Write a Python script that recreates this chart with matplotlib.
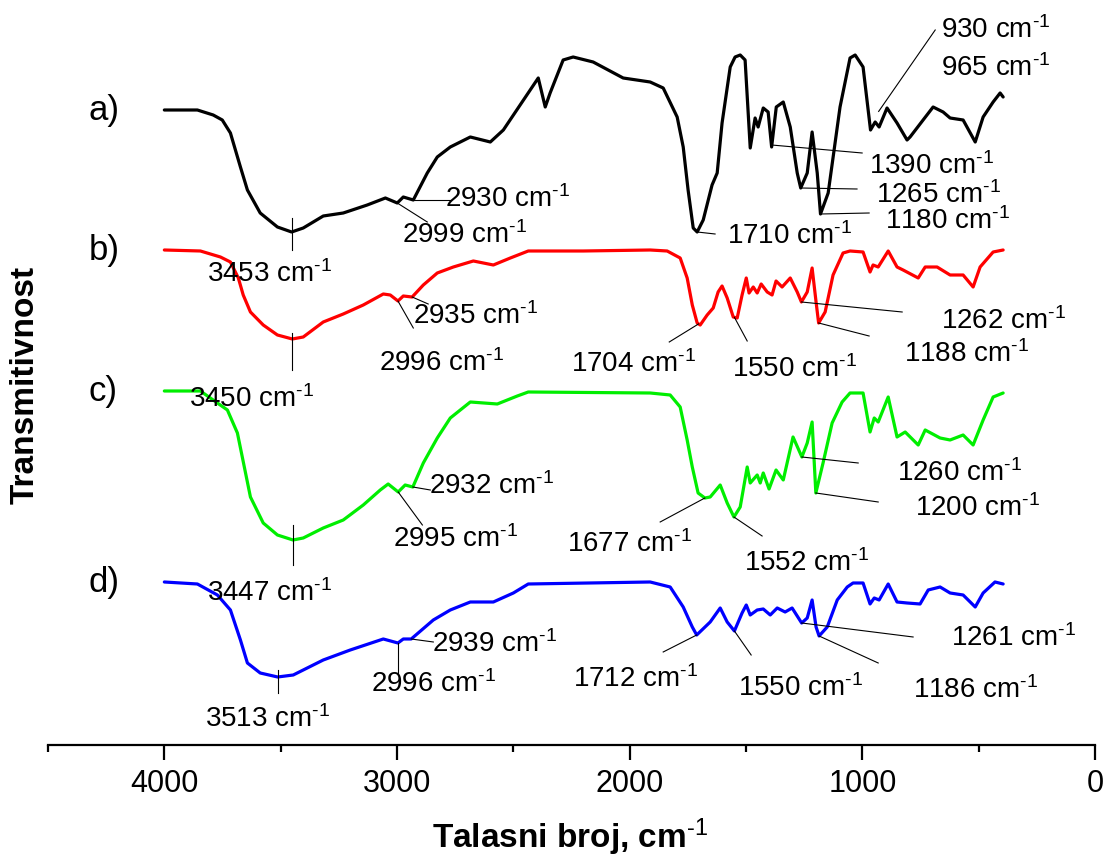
import numpy as np
import matplotlib
matplotlib.use("Agg")
import matplotlib.pyplot as plt

plt.rcParams['font.family'] = ['Liberation Sans', 'DejaVu Sans']
plt.rcParams['mathtext.fontset'] = 'custom'
plt.rcParams['mathtext.rm'] = 'Liberation Sans'
plt.rcParams['mathtext.default'] = 'regular'

# FTIR spectra, wavenumber (cm-1) and transmittance (arbitrary units, stacked)
wn_a = [4000, 3858, 3790, 3751, 3716, 3673, 3643, 3588, 3514, 3453, 3403, 3317, 3231, 3128, 3050,
        2999, 2973, 2930, 2870, 2827, 2771, 2685, 2599, 2543, 2393, 2363, 2342, 2320, 2286,
        2243, 2157, 2028, 1912, 1856, 1796, 1770, 1749, 1727, 1710, 1684, 1646, 1624, 1603,
        1568, 1547, 1525, 1504, 1482, 1461, 1448, 1426, 1405, 1390, 1370, 1340, 1310, 1280,
        1265, 1237, 1216, 1194, 1180, 1147, 1096, 1053, 1031, 997, 965, 945, 928, 894, 851,
        808, 795, 739, 696, 653, 623, 567, 515, 481, 438, 408, 395]
t_a = [635, 635, 630, 625, 612, 578, 555, 532, 518, 513, 517, 529, 532, 540, 547,
       542, 548, 545, 572, 588, 598, 608, 603, 615, 667, 638, 652, 665, 685,
       688, 683, 667, 663, 657, 628, 598, 555, 517, 513, 525, 560, 572, 622,
       678, 688, 690, 685, 597, 627, 618, 637, 633, 598, 638, 643, 618, 572,
       557, 572, 613, 572, 531, 552, 638, 687, 690, 678, 615, 623, 618, 637, 622,
       605, 608, 625, 638, 633, 627, 625, 603, 628, 643, 652, 648]

wn_b = [4000, 3845, 3759, 3716, 3682, 3661, 3630, 3575, 3514, 3450, 3403, 3317, 3231, 3145,
        3059, 3029, 2996, 2973, 2935, 2887, 2827, 2758, 2672, 2586, 2513, 2436, 2200, 1912,
        1839, 1783, 1753, 1731, 1710, 1697, 1667, 1641, 1620, 1603, 1581, 1555, 1538, 1517,
        1499, 1487, 1469, 1452, 1435, 1409, 1388, 1371, 1345, 1310, 1280, 1262, 1237, 1216,
        1199, 1188, 1160, 1126, 1083, 1053, 997, 967, 954, 932, 889, 851, 825, 760, 730,
        679, 623, 567, 524, 494, 438, 395]
t_b = [495, 494, 488, 483, 467, 450, 433, 420, 410, 406, 408, 423, 431, 440,
       451, 450, 444, 449, 448, 460, 472, 478, 484, 480, 487, 494, 494, 495,
       494, 487, 467, 440, 422, 420, 430, 437, 453, 459, 447, 428, 427, 450,
       467, 452, 458, 452, 461, 453, 450, 464, 458, 467, 453, 443, 453, 477,
       443, 422, 433, 470, 492, 494, 493, 473, 480, 478, 494, 478, 475, 467, 478,
       478, 470, 470, 458, 478, 493, 495]

wn_c = [4000, 3845, 3772, 3729, 3686, 3665, 3630, 3575, 3514, 3447, 3403, 3317, 3231, 3145,
        3072, 3038, 2995, 2965, 2932, 2887, 2827, 2771, 2685, 2569, 2483, 2436, 1912, 1826,
        1783, 1753, 1731, 1706, 1677, 1654, 1611, 1581, 1552, 1525, 1495, 1482, 1452, 1439,
        1426, 1401, 1371, 1340, 1298, 1260, 1237, 1216, 1200, 1169, 1130, 1087, 1053, 997,
        967, 949, 932, 889, 851, 816, 760, 730, 666, 623, 567, 524, 481, 438, 395]
t_c = [354, 354, 342, 335, 312, 288, 248, 222, 210, 205, 207, 217, 225, 240,
       255, 261, 253, 260, 258, 282, 307, 327, 343, 341, 349, 353, 352, 350,
       338, 305, 278, 252, 247, 248, 260, 242, 228, 238, 278, 262, 270, 262,
       272, 256, 275, 265, 308, 288, 302, 323, 252, 282, 322, 343, 352, 352,
       313, 327, 323, 348, 308, 313, 300, 315, 307, 305, 310, 300, 325, 348, 352]

wn_d = [4000, 3858, 3772, 3716, 3673, 3643, 3588, 3513, 3446, 3317, 3201, 3059, 2996, 2973,
        2939, 2844, 2771, 2685, 2586, 2500, 2436, 1912, 1826, 1770, 1731, 1712, 1654, 1611,
        1581, 1550, 1517, 1499, 1482, 1452, 1426, 1396, 1366, 1332, 1302, 1261, 1237, 1216,
        1199, 1186, 1151, 1108, 1065, 1040, 997, 967, 949, 928, 889, 851, 808, 752, 717,
        666, 623, 567, 515, 481, 430, 395]
t_d = [163, 161, 150, 135, 105, 82, 72, 68, 70, 85, 95, 106, 102, 106,
       106, 125, 135, 143, 143, 152, 161, 163, 158, 138, 118, 110, 123, 137,
       123, 114, 132, 140, 130, 135, 136, 130, 137, 133, 137, 122, 127, 145,
       118, 109, 118, 145, 158, 162, 162, 141, 147, 145, 161, 143, 142, 141, 155,
       158, 152, 150, 138, 152, 163, 161]

spectra = [(wn_a, t_a, 'black', 'a)'),
           (wn_b, t_b, '#ff0000', 'b)'),
           (wn_c, t_c, '#00ee00', 'c)'),
           (wn_d, t_d, '#0000ff', 'd)')]

# peak labels: (spectrum, peak wn, line start offset, line end (wn, T), text (wn, T))
peaks = [
    (0, 3453, 14, (3453, 495), (3815, 463)),
    (0, 2999, 0, (2870, 523), (2977, 502)),
    (0, 2930, 0, (2771, 545), (2793, 538)),
    (0, 1710, 0, (1633, 511), (1581, 501)),
    (0, 1390, 2, (1001, 592), (971, 571)),
    (0, 1265, 0, (1023, 556), (941, 542)),
    (0, 1180, 0, (971, 532), (902, 516)),
    (0, 930, 15, (687, 715), (662, 707)),
    (1, 3450, 6, (3450, 375), (3893, 338)),
    (1, 2996, 0, (2930, 417), (3076, 374)),
    (1, 2935, 0, (2866, 441), (2930, 421)),
    (1, 1704, 0, (1830, 403), (2251, 373)),
    (1, 1550, 0, (1495, 404), (1560, 368)),
    (1, 1262, 0, (829, 433), (662, 416)),
    (1, 1188, 0, (971, 409), (821, 383)),
    (2, 3447, 15, (3447, 180), (3815, 144)),
    (2, 2995, 0, (2891, 220), (3016, 198)),
    (2, 2932, 0, (2857, 255), (2861, 251)),
    (2, 1677, 0, (1869, 223), (2268, 193)),
    (2, 1552, 0, (1431, 209), (1508, 174)),
    (2, 1260, 0, (1018, 282), (851, 264)),
    (2, 1200, 0, (932, 243), (773, 229)),
    (3, 3513, 7, (3513, 52), (3824, 18)),
    (3, 2996, 0, (2996, 72), (3111, 53)),
    (3, 2939, 0, (2844, 103), (2849, 93)),
    (3, 1712, 0, (1856, 93), (2243, 58)),
    (3, 1550, 0, (1478, 90), (1534, 49)),
    (3, 1261, 0, (782, 108), (619, 99)),
    (3, 1186, 0, (932, 82), (782, 47)),
]
extra_labels = [(965, (662, 669))]

UNIT = r' cm$^{\text{-1}}$'

fig = plt.figure(figsize=(11.06, 8.57), dpi=100)
ax = fig.add_axes([0.0434, 0.1307, 0.9467, 0.8693])

for wn, t, color, name in spectra:
    ax.plot(wn, t, color=color, lw=2.3, solid_joinstyle='round', solid_capstyle='round')
    ax.text(4327, t[0] - 1, name, fontsize=25, ha='left', va='center')

for idx, pk, dy, (lx, ly), (tx, ty) in peaks:
    wn, t = spectra[idx][0], spectra[idx][1]
    y0 = np.interp(pk, wn[::-1], t[::-1]) + dy
    ax.plot([pk, lx], [y0, ly], color='black', lw=0.8)
    ax.text(tx, ty, f'{pk}' + UNIT, fontsize=20, ha='left', va='baseline')

for pk, (tx, ty) in extra_labels:
    ax.text(tx, ty, f'{pk}' + UNIT, fontsize=20, ha='left', va='baseline')

ax.set_xlim(4500, 0)
ax.set_ylim(0, 745)
ax.set_xticks([4000, 3000, 2000, 1000, 0])
ax.set_xticks(np.arange(500, 5000, 1000), minor=True)
ax.set_yticks([])
for side in ['left', 'right', 'top']:
    ax.spines[side].set_visible(False)
ax.spines['bottom'].set_linewidth(1.6)
ax.tick_params(axis='x', which='major', direction='out', length=11, width=1.6,
               labelsize=22, pad=6)
ax.tick_params(axis='x', which='minor', direction='out', length=5, width=1.6)

fig.text(570 / 1106, 1 - 837 / 857, 'Talasni broj, cm$^{\\text{-1}}$', fontsize=24,
         fontweight='bold', ha='center', va='center')
fig.text(25 / 1106, 1 - 385 / 857, 'Transmitivnost', fontsize=24,
         fontweight='bold', ha='center', va='center', rotation=90)

fig.savefig('out.png', dpi=100)
